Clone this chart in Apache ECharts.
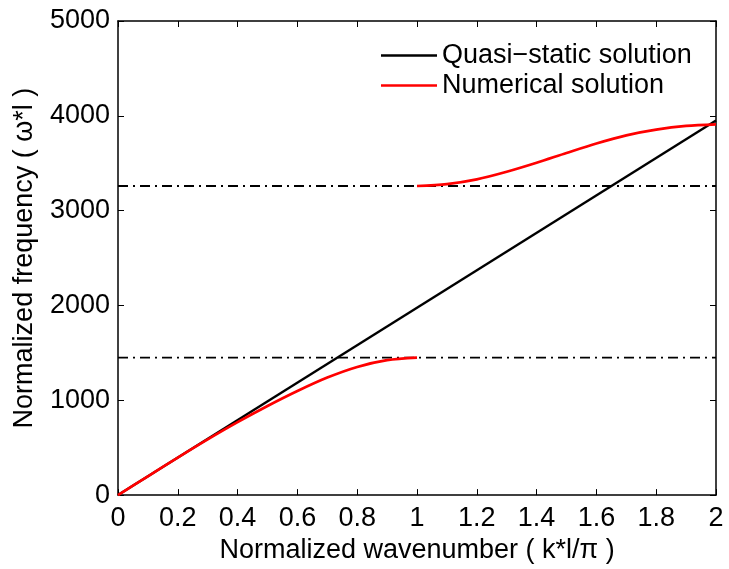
<!DOCTYPE html>
<html><head><meta charset="utf-8">
<script src="https://cdn.jsdelivr.net/npm/echarts@6/dist/echarts.min.js"></script>
<style>html,body{margin:0;padding:0;background:#fff}#c{width:729px;height:569px}</style>
</head><body><div id="c"></div>
<script>
const xTicks = [0, 0.2, 0.4, 0.6, 0.8, 1, 1.2, 1.4, 1.6, 1.8, 2];
const yTicks = [0, 1000, 2000, 3000, 4000, 5000];
const quasiK = [0, 2];
const quasiW = [0, 3950];
const lowK = [0, 0.1, 0.2, 0.3, 0.4, 0.5, 0.6, 0.7, 0.8, 0.9, 1.0];
const lowW = [0, 198, 395, 587, 769, 939, 1097, 1239, 1351, 1423, 1450];
const highK = [1.0, 1.1, 1.2, 1.3, 1.4, 1.5, 1.6, 1.7, 1.8, 1.9, 2.0];
const highW = [3260, 3280, 3330, 3410, 3505, 3608, 3708, 3794, 3854, 3893, 3910];
const cutoffK = [0, 2];
const cutoffLow = [1450, 1450];
const cutoffHigh = [3260, 3260];
const legendNames = ['Quasi\u2212static solution', 'Numerical solution'];

const pairs = (xs, ys) => xs.map((x, i) => [x, ys[i]]);
const FONT = 'Liberation Sans';
const FS = 27;

const chart = echarts.init(document.getElementById('c'));
const axisCommon = {
  type: 'value',
  axisLine: { show: true, onZero: false, lineStyle: { color: '#000', width: 1.5 } },
  axisTick: { show: true, inside: true, length: 6, lineStyle: { color: '#000', width: 1 } },
  splitLine: { show: false }
};
chart.setOption({
  animation: false,
  grid: { left: 118, right: 13, top: 21, bottom: 72, containLabel: false },
  legend: {
    data: legendNames,
    orient: 'vertical',
    left: 376, top: 37,
    icon: 'rect',
    itemWidth: 56, itemHeight: 2.5, itemGap: 3,
    textStyle: { fontFamily: FONT, fontSize: FS, color: '#000', lineHeight: 26 },
    selectedMode: false
  },
  xAxis: [
    Object.assign({}, axisCommon, {
      min: 0, max: 2, interval: 0.2, position: 'bottom',
      axisLabel: { fontFamily: FONT, fontSize: FS, color: '#000', margin: 10, formatter: v => String(+v.toFixed(1)) },
      name: 'Normalized wavenumber ( k*l/\u03c0 )', nameLocation: 'middle', nameGap: 36,
      nameTextStyle: { fontFamily: FONT, fontSize: FS, color: '#000' }
    }),
    Object.assign({}, axisCommon, {
      min: 0, max: 2, interval: 0.2, position: 'top', axisLabel: { show: false }
    })
  ],
  yAxis: [
    Object.assign({}, axisCommon, {
      min: 0, max: 5000, interval: 1000, position: 'left',
      axisLabel: { fontFamily: FONT, fontSize: FS, color: '#000', margin: 8, formatter: v => String(v) },
      name: 'Normalized frequency ( \u03c9*l )', nameLocation: 'middle', nameGap: 80,
      nameTextStyle: { fontFamily: FONT, fontSize: FS, color: '#000' }
    }),
    Object.assign({}, axisCommon, {
      min: 0, max: 5000, interval: 1000, position: 'right', axisLabel: { show: false }
    })
  ],
  series: [
    { type: 'line', name: 'cut1', data: pairs(cutoffK, cutoffLow), symbol: 'none', silent: true,
      lineStyle: { color: '#000', width: 1.8, type: [10, 5, 2, 5] } },
    { type: 'line', name: 'cut2', data: pairs(cutoffK, cutoffHigh), symbol: 'none', silent: true,
      lineStyle: { color: '#000', width: 1.8, type: [10, 5, 2, 5] } },
    { type: 'line', name: legendNames[0], data: pairs(quasiK, quasiW), symbol: 'none',
      lineStyle: { color: '#000', width: 2.4 }, itemStyle: { color: '#000' } },
    { type: 'line', name: legendNames[1], data: pairs(lowK, lowW), symbol: 'none', smooth: 0.3,
      lineStyle: { color: '#ff0000', width: 2.7 }, itemStyle: { color: '#ff0000' } },
    { type: 'line', name: legendNames[1], data: pairs(highK, highW), symbol: 'none', smooth: 0.3,
      lineStyle: { color: '#ff0000', width: 2.7 }, itemStyle: { color: '#ff0000' } }
  ]
});
</script></body></html>
